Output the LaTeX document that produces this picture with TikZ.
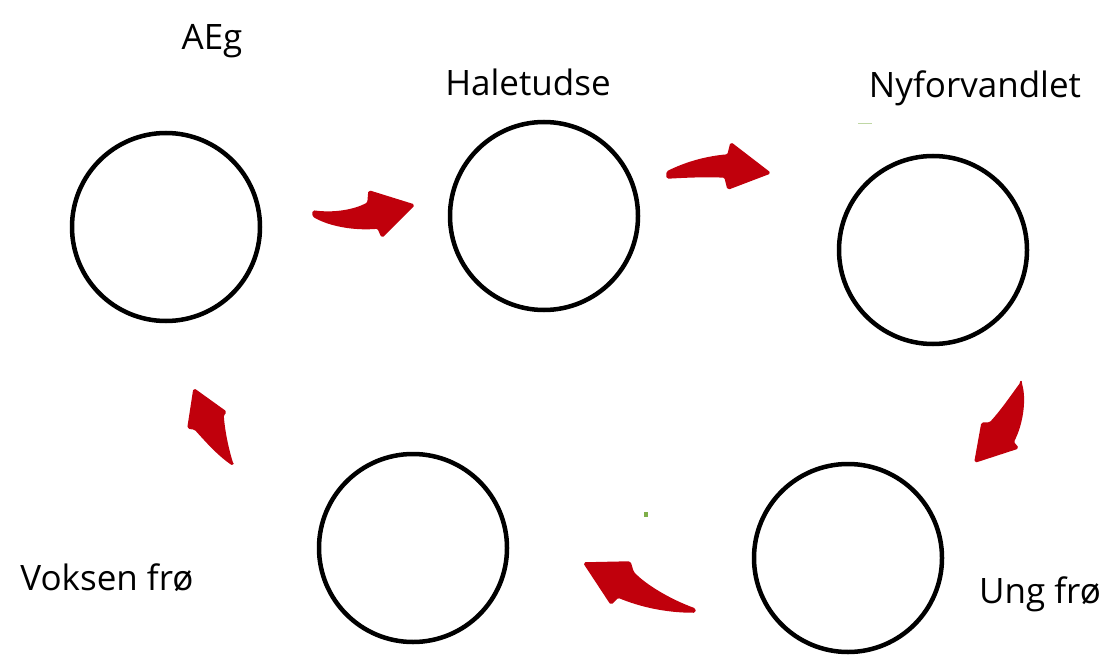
\documentclass[tikz,border=0pt]{standalone}
\usepackage{fontspec}
\setmainfont{Open Sans}
\definecolor{arrowred}{HTML}{C0000C}
\definecolor{dotgreen}{HTML}{7FAF4A}
\begin{document}
\begin{tikzpicture}[x=1pt,y=-1pt,
  stage/.style={circle,draw=black,line width=4.5pt,minimum size=188pt,inner sep=0pt},
  lbl/.style={font=\fontsize{35}{40}\selectfont,anchor=base,inner sep=0pt},
  bigarrow/.style={fill=arrowred,draw=arrowred,line width=1.5pt,line join=round,rounded corners=1.5pt}]
\useasboundingbox (0,0) rectangle (1110,655);
% stages
\node[stage] (egg) at (166,227) {};
\node[stage] (tad) at (544,216) {};
\node[stage] (new) at (933,250) {};
\node[stage] (young) at (848,558) {};
\node[stage] (adult) at (413,548) {};
% labels
\node[lbl] (legg) at (212,50) {AEg};
\node[lbl] (ltad) at (528,96) {Haletudse};
\node[lbl] (lnew) at (975,98) {Nyforvandlet};
\node[lbl] (lyoung) at (1040,603) {Ung frø};
\node[lbl] (ladult) at (107,590) {Voksen frø};
% arrows
\fill[bigarrow] (313,211) .. controls (335,214) and (355,210) .. (368,203)
  -- (369,191) -- (414,205) -- (382,237) -- (378,228)
  .. controls (355,230) and (330,226) .. (313,216) -- cycle;
\fill[bigarrow] (667,172) .. controls (685,163) and (705,157) .. (728,155)
  -- (731,143) -- (770,173) -- (728,189) -- (725,177)
  .. controls (705,176) and (685,177) .. (667,178) -- cycle;
\fill[bigarrow] (1021,383) .. controls (1026,400) and (1022,425) .. (1013,442)
  -- (1018,448) -- (975,462) -- (982,423) -- (990,423)
  .. controls (1002,410) and (1012,395) .. (1021,383) -- cycle;
\fill[bigarrow] (695,609) .. controls (670,600) and (645,585) .. (633,572)
  -- (630,562) -- (584,563) -- (611,604) -- (618,597)
  .. controls (640,606) and (665,612) .. (695,612) -- cycle;
\fill[bigarrow] (233,465) .. controls (228,450) and (224,430) .. (223,415)
  -- (226,412) -- (194,389) -- (188,428) -- (195,429)
  .. controls (205,440) and (218,455) .. (233,465) -- cycle;
% stray marks
\fill[dotgreen] (644,512) rectangle (648,517);
\draw[dotgreen!50,line width=1pt] (858,124) -- (872,124);
\end{tikzpicture}
\end{document}
